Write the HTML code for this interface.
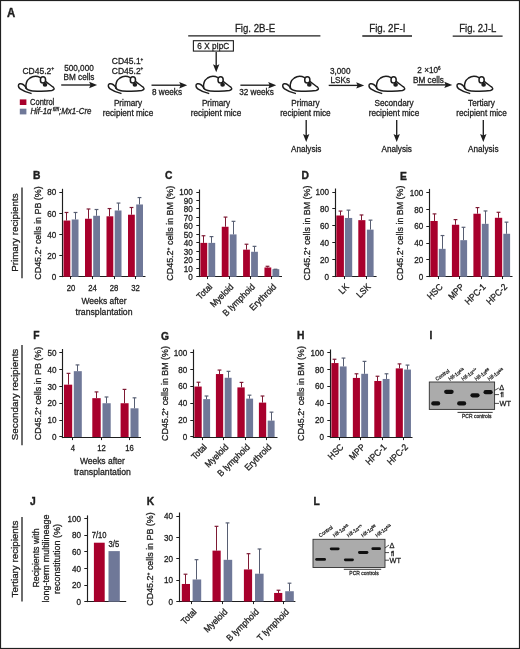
<!DOCTYPE html><html><head><meta charset="utf-8"><style>html,body{margin:0;padding:0;background:#fff;}svg{display:block;}text{font-family:"Liberation Sans", sans-serif;stroke:#1e1e1e;stroke-width:0.3px;}</style></head><body>
<svg width="520" height="649" viewBox="0 0 520 649" font-family='"Liberation Sans", sans-serif' fill="#1e1e1e" style="will-change:transform">
<rect x="0.00" y="0.00" width="520.00" height="649.00" fill="#fff"/>
<text x="7.00" y="17.00" font-size="12.54" font-weight="bold" transform="translate(7.00 17.00) scale(0.9091 1) translate(-7.00 -17.00)" style="stroke-width:0.4px">A</text>
<rect x="19.80" y="99.40" width="6.60" height="5.60" fill="#a8002c"/>
<rect x="19.80" y="108.70" width="6.60" height="5.70" fill="#6f7898"/>
<text x="30.00" y="104.80" font-size="8.86" textLength="26.24" lengthAdjust="spacingAndGlyphs" transform="translate(30.00 104.80) scale(0.9259 1) translate(-30.00 -104.80)">Control</text>
<text x="30.40" y="114.20" font-size="8.86" textLength="65.88" lengthAdjust="spacingAndGlyphs" font-style="italic" transform="translate(30.40 114.20) scale(0.9259 1) translate(-30.40 -114.20)">Hif-1&#945;<tspan font-size="5.4" dy="-3.2" font-style="italic"> fl/fl</tspan><tspan dy="3.2">;Mx1-Cre</tspan></text>
<text x="38.40" y="73.60" font-size="9.18" text-anchor="middle" transform="translate(38.40 73.60) scale(0.9259 1) translate(-38.40 -73.60)">CD45.2<tspan font-size="5.6" dy="-3.2">+</tspan></text>
<text x="79.00" y="70.80" font-size="8.86" text-anchor="middle" transform="translate(79.00 70.80) scale(0.9259 1) translate(-79.00 -70.80)">500,000</text>
<text x="79.00" y="80.20" font-size="8.86" text-anchor="middle" transform="translate(79.00 80.20) scale(0.9259 1) translate(-79.00 -80.20)">BM cells</text>
<text x="127.60" y="64.10" font-size="9.18" text-anchor="middle" transform="translate(127.60 64.10) scale(0.9259 1) translate(-127.60 -64.10)">CD45.1<tspan font-size="5" dy="-3.2">+</tspan></text>
<text x="127.60" y="73.70" font-size="9.18" text-anchor="middle" transform="translate(127.60 73.70) scale(0.9259 1) translate(-127.60 -73.70)">CD45.2<tspan font-size="5" dy="-3.2">+</tspan></text>
<line x1="61.20" y1="85.00" x2="92.10" y2="85.00" stroke="#1e1e1e" stroke-width="1.35"/>
<path d="M97.10,85.00 L89.10,81.80 L90.50,85.00 L89.10,88.20 Z" fill="#1e1e1e"/>
<line x1="151.50" y1="85.20" x2="182.20" y2="85.20" stroke="#1e1e1e" stroke-width="1.35"/>
<path d="M187.20,85.20 L179.20,82.00 L180.60,85.20 L179.20,88.40 Z" fill="#1e1e1e"/>
<text x="167.00" y="94.60" font-size="8.86" text-anchor="middle" transform="translate(167.00 94.60) scale(0.9259 1) translate(-167.00 -94.60)">8 weeks</text>
<line x1="240.40" y1="85.20" x2="271.20" y2="85.20" stroke="#1e1e1e" stroke-width="1.35"/>
<path d="M276.20,85.20 L268.20,82.00 L269.60,85.20 L268.20,88.40 Z" fill="#1e1e1e"/>
<text x="256.50" y="95.50" font-size="8.86" text-anchor="middle" transform="translate(256.50 95.50) scale(0.9259 1) translate(-256.50 -95.50)">32 weeks</text>
<line x1="328.70" y1="85.40" x2="359.20" y2="85.40" stroke="#1e1e1e" stroke-width="1.35"/>
<path d="M364.20,85.40 L356.20,82.20 L357.60,85.40 L356.20,88.60 Z" fill="#1e1e1e"/>
<text x="340.20" y="73.80" font-size="8.86" text-anchor="middle" transform="translate(340.20 73.80) scale(0.9259 1) translate(-340.20 -73.80)">3,000</text>
<text x="340.20" y="83.40" font-size="8.86" text-anchor="middle" transform="translate(340.20 83.40) scale(0.9259 1) translate(-340.20 -83.40)">LSKs</text>
<line x1="417.40" y1="84.90" x2="447.30" y2="84.90" stroke="#1e1e1e" stroke-width="1.35"/>
<path d="M452.30,84.90 L444.30,81.70 L445.70,84.90 L444.30,88.10 Z" fill="#1e1e1e"/>
<text x="429.00" y="73.10" font-size="8.86" text-anchor="middle" transform="translate(429.00 73.10) scale(0.9259 1) translate(-429.00 -73.10)">2 ×10<tspan font-size="5" dy="-3">6</tspan></text>
<text x="428.50" y="83.00" font-size="8.86" text-anchor="middle" transform="translate(428.50 83.00) scale(0.9259 1) translate(-428.50 -83.00)">BM cells</text>
<text x="255.00" y="31.70" font-size="11.23" text-anchor="middle" textLength="43.42" lengthAdjust="spacingAndGlyphs" transform="translate(255.00 31.70) scale(0.9259 1) translate(-255.00 -31.70)">Fig. 2B-E</text>
<line x1="188.20" y1="35.95" x2="320.40" y2="35.95" stroke="#1e1e1e" stroke-width="1.3"/>
<text x="387.30" y="31.70" font-size="11.23" text-anchor="middle" textLength="39.10" lengthAdjust="spacingAndGlyphs" transform="translate(387.30 31.70) scale(0.9259 1) translate(-387.30 -31.70)">Fig. 2F-I</text>
<line x1="362.30" y1="36.00" x2="412.00" y2="36.00" stroke="#1e1e1e" stroke-width="1.3"/>
<text x="477.80" y="31.70" font-size="11.23" text-anchor="middle" textLength="40.18" lengthAdjust="spacingAndGlyphs" transform="translate(477.80 31.70) scale(0.9259 1) translate(-477.80 -31.70)">Fig. 2J-L</text>
<line x1="452.70" y1="36.10" x2="502.60" y2="36.10" stroke="#1e1e1e" stroke-width="1.3"/>
<rect x="193.4" y="40.7" width="40.0" height="10.4" fill="none" stroke="#1e1e1e" stroke-width="1.1"/>
<text x="213.30" y="49.00" font-size="8.86" text-anchor="middle" transform="translate(213.30 49.00) scale(0.9259 1) translate(-213.30 -49.00)">6 X pIpC</text>
<line x1="216.20" y1="51.90" x2="216.20" y2="67.30" stroke="#1e1e1e" stroke-width="1.35"/>
<path d="M216.20,72.30 L213.00,64.30 L216.20,65.70 L219.40,64.30 Z" fill="#1e1e1e"/>
<g transform="translate(14.00,72.00) scale(1.0)" fill="none" stroke="#1e1e1e" stroke-width="1.5" stroke-linecap="round" stroke-linejoin="round"><path d="M12.1,16.2 C11.4,12.2 12.8,8.2 16,6 C18.8,4.2 23,4.0 26.4,5.6"/><path d="M31.8,9.6 C34.4,11.6 37.4,13.7 39.3,15.2 C40.8,16.5 40.2,18.0 37.8,18.5 C33.5,19.2 24,19.3 18.5,18.9 C15.2,18.6 12.9,17.6 12.1,16.2"/><path d="M12.1,15.8 C10.6,13.4 7.9,11.4 5.8,11.8 C3.8,12.3 3.9,15.2 6.2,16.8 C8.5,18.4 12.6,20.2 17.0,21.4"/><ellipse cx="29.0" cy="7.9" rx="2.6" ry="3.1" fill="#fff"/><ellipse cx="31.0" cy="12.8" rx="2.3" ry="1.95" fill="#1e1e1e" stroke="none"/></g>
<g transform="translate(103.90,72.00) scale(1.0)" fill="none" stroke="#1e1e1e" stroke-width="1.5" stroke-linecap="round" stroke-linejoin="round"><path d="M12.1,16.2 C11.4,12.2 12.8,8.2 16,6 C18.8,4.2 23,4.0 26.4,5.6"/><path d="M31.8,9.6 C34.4,11.6 37.4,13.7 39.3,15.2 C40.8,16.5 40.2,18.0 37.8,18.5 C33.5,19.2 24,19.3 18.5,18.9 C15.2,18.6 12.9,17.6 12.1,16.2"/><path d="M12.1,15.8 C10.6,13.4 7.9,11.4 5.8,11.8 C3.8,12.3 3.9,15.2 6.2,16.8 C8.5,18.4 12.6,20.2 17.0,21.4"/><ellipse cx="29.0" cy="7.9" rx="2.6" ry="3.1" fill="#fff"/><ellipse cx="31.0" cy="12.8" rx="2.3" ry="1.95" fill="#1e1e1e" stroke="none"/></g>
<g transform="translate(191.60,72.00) scale(1.0)" fill="none" stroke="#1e1e1e" stroke-width="1.5" stroke-linecap="round" stroke-linejoin="round"><path d="M12.1,16.2 C11.4,12.2 12.8,8.2 16,6 C18.8,4.2 23,4.0 26.4,5.6"/><path d="M31.8,9.6 C34.4,11.6 37.4,13.7 39.3,15.2 C40.8,16.5 40.2,18.0 37.8,18.5 C33.5,19.2 24,19.3 18.5,18.9 C15.2,18.6 12.9,17.6 12.1,16.2"/><path d="M12.1,15.8 C10.6,13.4 7.9,11.4 5.8,11.8 C3.8,12.3 3.9,15.2 6.2,16.8 C8.5,18.4 12.6,20.2 17.0,21.4"/><ellipse cx="29.0" cy="7.9" rx="2.6" ry="3.1" fill="#fff"/><ellipse cx="31.0" cy="12.8" rx="2.3" ry="1.95" fill="#1e1e1e" stroke="none"/></g>
<g transform="translate(278.30,72.00) scale(1.0)" fill="none" stroke="#1e1e1e" stroke-width="1.5" stroke-linecap="round" stroke-linejoin="round"><path d="M12.1,16.2 C11.4,12.2 12.8,8.2 16,6 C18.8,4.2 23,4.0 26.4,5.6"/><path d="M31.8,9.6 C34.4,11.6 37.4,13.7 39.3,15.2 C40.8,16.5 40.2,18.0 37.8,18.5 C33.5,19.2 24,19.3 18.5,18.9 C15.2,18.6 12.9,17.6 12.1,16.2"/><path d="M12.1,15.8 C10.6,13.4 7.9,11.4 5.8,11.8 C3.8,12.3 3.9,15.2 6.2,16.8 C8.5,18.4 12.6,20.2 17.0,21.4"/><ellipse cx="29.0" cy="7.9" rx="2.6" ry="3.1" fill="#fff"/><ellipse cx="31.0" cy="12.8" rx="2.3" ry="1.95" fill="#1e1e1e" stroke="none"/></g>
<g transform="translate(364.60,72.00) scale(1.0)" fill="none" stroke="#1e1e1e" stroke-width="1.5" stroke-linecap="round" stroke-linejoin="round"><path d="M12.1,16.2 C11.4,12.2 12.8,8.2 16,6 C18.8,4.2 23,4.0 26.4,5.6"/><path d="M31.8,9.6 C34.4,11.6 37.4,13.7 39.3,15.2 C40.8,16.5 40.2,18.0 37.8,18.5 C33.5,19.2 24,19.3 18.5,18.9 C15.2,18.6 12.9,17.6 12.1,16.2"/><path d="M12.1,15.8 C10.6,13.4 7.9,11.4 5.8,11.8 C3.8,12.3 3.9,15.2 6.2,16.8 C8.5,18.4 12.6,20.2 17.0,21.4"/><ellipse cx="29.0" cy="7.9" rx="2.6" ry="3.1" fill="#fff"/><ellipse cx="31.0" cy="12.8" rx="2.3" ry="1.95" fill="#1e1e1e" stroke="none"/></g>
<g transform="translate(452.60,72.00) scale(1.0)" fill="none" stroke="#1e1e1e" stroke-width="1.5" stroke-linecap="round" stroke-linejoin="round"><path d="M12.1,16.2 C11.4,12.2 12.8,8.2 16,6 C18.8,4.2 23,4.0 26.4,5.6"/><path d="M31.8,9.6 C34.4,11.6 37.4,13.7 39.3,15.2 C40.8,16.5 40.2,18.0 37.8,18.5 C33.5,19.2 24,19.3 18.5,18.9 C15.2,18.6 12.9,17.6 12.1,16.2"/><path d="M12.1,15.8 C10.6,13.4 7.9,11.4 5.8,11.8 C3.8,12.3 3.9,15.2 6.2,16.8 C8.5,18.4 12.6,20.2 17.0,21.4"/><ellipse cx="29.0" cy="7.9" rx="2.6" ry="3.1" fill="#fff"/><ellipse cx="31.0" cy="12.8" rx="2.3" ry="1.95" fill="#1e1e1e" stroke="none"/></g>
<text x="128.00" y="106.30" font-size="8.86" text-anchor="middle" transform="translate(128.00 106.30) scale(0.9259 1) translate(-128.00 -106.30)">Primary</text>
<text x="128.00" y="115.80" font-size="8.86" text-anchor="middle" transform="translate(128.00 115.80) scale(0.9259 1) translate(-128.00 -115.80)">recipient mice</text>
<text x="216.00" y="106.30" font-size="8.86" text-anchor="middle" transform="translate(216.00 106.30) scale(0.9259 1) translate(-216.00 -106.30)">Primary</text>
<text x="216.00" y="116.20" font-size="8.86" text-anchor="middle" transform="translate(216.00 116.20) scale(0.9259 1) translate(-216.00 -116.20)">recipient mice</text>
<text x="305.40" y="106.30" font-size="8.86" text-anchor="middle" transform="translate(305.40 106.30) scale(0.9259 1) translate(-305.40 -106.30)">Primary</text>
<text x="305.40" y="116.20" font-size="8.86" text-anchor="middle" transform="translate(305.40 116.20) scale(0.9259 1) translate(-305.40 -116.20)">recipient mice</text>
<text x="394.00" y="106.30" font-size="8.86" text-anchor="middle" transform="translate(394.00 106.30) scale(0.9259 1) translate(-394.00 -106.30)">Secondary</text>
<text x="394.00" y="116.20" font-size="8.86" text-anchor="middle" transform="translate(394.00 116.20) scale(0.9259 1) translate(-394.00 -116.20)">recipient mice</text>
<text x="481.50" y="106.30" font-size="8.86" text-anchor="middle" transform="translate(481.50 106.30) scale(0.9259 1) translate(-481.50 -106.30)">Tertiary</text>
<text x="481.50" y="116.20" font-size="8.86" text-anchor="middle" transform="translate(481.50 116.20) scale(0.9259 1) translate(-481.50 -116.20)">recipient mice</text>
<line x1="306.20" y1="120.10" x2="306.20" y2="137.10" stroke="#1e1e1e" stroke-width="1.35"/>
<path d="M306.20,142.10 L303.00,134.10 L306.20,135.50 L309.40,134.10 Z" fill="#1e1e1e"/>
<text x="306.20" y="152.40" font-size="8.86" text-anchor="middle" transform="translate(306.20 152.40) scale(0.9259 1) translate(-306.20 -152.40)">Analysis</text>
<line x1="396.70" y1="120.10" x2="396.70" y2="137.10" stroke="#1e1e1e" stroke-width="1.35"/>
<path d="M396.70,142.10 L393.50,134.10 L396.70,135.50 L399.90,134.10 Z" fill="#1e1e1e"/>
<text x="396.70" y="152.40" font-size="8.86" text-anchor="middle" transform="translate(396.70 152.40) scale(0.9259 1) translate(-396.70 -152.40)">Analysis</text>
<line x1="483.30" y1="120.10" x2="483.30" y2="137.10" stroke="#1e1e1e" stroke-width="1.35"/>
<path d="M483.30,142.10 L480.10,134.10 L483.30,135.50 L486.50,134.10 Z" fill="#1e1e1e"/>
<text x="483.30" y="152.40" font-size="8.86" text-anchor="middle" transform="translate(483.30 152.40) scale(0.9259 1) translate(-483.30 -152.40)">Analysis</text>
<text x="18.10" y="232.60" font-size="9.80" text-anchor="middle" transform="rotate(-90 18.10 232.60)">Primary recipients</text>
<line x1="22.00" y1="187.60" x2="22.00" y2="278.30" stroke="#1e1e1e" stroke-width="1.3"/>
<text x="18.10" y="394.50" font-size="9.80" text-anchor="middle" transform="rotate(-90 18.10 394.50)">Secondary recipients</text>
<line x1="22.00" y1="345.00" x2="22.00" y2="445.30" stroke="#1e1e1e" stroke-width="1.3"/>
<text x="18.10" y="559.00" font-size="9.80" text-anchor="middle" transform="rotate(-90 18.10 559.00)">Tertiary recipients</text>
<line x1="22.00" y1="517.00" x2="22.00" y2="601.50" stroke="#1e1e1e" stroke-width="1.3"/>
<text x="33.00" y="179.00" font-size="11.33" font-weight="bold" transform="translate(33.00 179.00) scale(0.9091 1) translate(-33.00 -179.00)" style="stroke-width:0.4px">B</text>
<text x="41.00" y="233.00" font-size="9.61" text-anchor="middle" transform="rotate(-90 41.00 233.00) translate(41.00 233.00) scale(0.9259 1) translate(-41.00 -233.00)">CD45.2<tspan font-size="5.5" dy="-3">+</tspan><tspan dy="3"> cells in PB (%)</tspan></text>
<line x1="62.50" y1="188.80" x2="62.50" y2="277.10" stroke="#1e1e1e" stroke-width="1.15"/>
<line x1="59.30" y1="276.50" x2="62.50" y2="276.50" stroke="#1e1e1e" stroke-width="1.0"/>
<text x="56.20" y="280.00" font-size="8.75" text-anchor="end" transform="translate(56.20 280.00) scale(0.9259 1) translate(-56.20 -280.00)">0</text>
<line x1="59.30" y1="255.50" x2="62.50" y2="255.50" stroke="#1e1e1e" stroke-width="1.0"/>
<text x="56.20" y="258.85" font-size="8.75" text-anchor="end" transform="translate(56.20 258.85) scale(0.9259 1) translate(-56.20 -258.85)">20</text>
<line x1="59.30" y1="234.50" x2="62.50" y2="234.50" stroke="#1e1e1e" stroke-width="1.0"/>
<text x="56.20" y="237.70" font-size="8.75" text-anchor="end" transform="translate(56.20 237.70) scale(0.9259 1) translate(-56.20 -237.70)">40</text>
<line x1="59.30" y1="213.50" x2="62.50" y2="213.50" stroke="#1e1e1e" stroke-width="1.0"/>
<text x="56.20" y="216.55" font-size="8.75" text-anchor="end" transform="translate(56.20 216.55) scale(0.9259 1) translate(-56.20 -216.55)">60</text>
<line x1="59.30" y1="192.50" x2="62.50" y2="192.50" stroke="#1e1e1e" stroke-width="1.0"/>
<text x="56.20" y="195.40" font-size="8.75" text-anchor="end" transform="translate(56.20 195.40) scale(0.9259 1) translate(-56.20 -195.40)">80</text>
<line x1="61.90" y1="276.50" x2="145.50" y2="276.50" stroke="#1e1e1e" stroke-width="1.15"/>
<rect x="63.50" y="220.54" width="6.80" height="56.26" fill="#a8002c"/>
<line x1="66.50" y1="212.48" x2="66.50" y2="220.54" stroke="#7e1a34" stroke-width="1.0"/>
<line x1="64.60" y1="212.48" x2="68.40" y2="212.48" stroke="#7e1a34" stroke-width="1.2"/>
<rect x="71.70" y="219.48" width="6.80" height="57.32" fill="#6f7898"/>
<line x1="75.50" y1="212.48" x2="75.50" y2="219.48" stroke="#575e72" stroke-width="1.0"/>
<line x1="73.60" y1="212.48" x2="77.40" y2="212.48" stroke="#575e72" stroke-width="1.2"/>
<line x1="70.50" y1="276.50" x2="70.50" y2="279.10" stroke="#1e1e1e" stroke-width="1.0"/>
<rect x="85.00" y="218.74" width="6.80" height="58.06" fill="#a8002c"/>
<line x1="88.50" y1="208.99" x2="88.50" y2="218.74" stroke="#7e1a34" stroke-width="1.0"/>
<line x1="86.60" y1="208.99" x2="90.40" y2="208.99" stroke="#7e1a34" stroke-width="1.2"/>
<rect x="93.20" y="215.78" width="6.80" height="61.02" fill="#6f7898"/>
<line x1="96.50" y1="209.51" x2="96.50" y2="215.78" stroke="#575e72" stroke-width="1.0"/>
<line x1="94.60" y1="209.51" x2="98.40" y2="209.51" stroke="#575e72" stroke-width="1.2"/>
<line x1="92.50" y1="276.50" x2="92.50" y2="279.10" stroke="#1e1e1e" stroke-width="1.0"/>
<rect x="106.50" y="216.31" width="6.80" height="60.49" fill="#a8002c"/>
<line x1="109.50" y1="208.56" x2="109.50" y2="216.31" stroke="#7e1a34" stroke-width="1.0"/>
<line x1="107.60" y1="208.56" x2="111.40" y2="208.56" stroke="#7e1a34" stroke-width="1.2"/>
<rect x="114.70" y="210.49" width="6.80" height="66.31" fill="#6f7898"/>
<line x1="118.50" y1="203.06" x2="118.50" y2="210.49" stroke="#575e72" stroke-width="1.0"/>
<line x1="116.60" y1="203.06" x2="120.40" y2="203.06" stroke="#575e72" stroke-width="1.2"/>
<line x1="114.50" y1="276.50" x2="114.50" y2="279.10" stroke="#1e1e1e" stroke-width="1.0"/>
<rect x="128.00" y="214.72" width="6.80" height="62.08" fill="#a8002c"/>
<line x1="131.50" y1="207.50" x2="131.50" y2="214.72" stroke="#7e1a34" stroke-width="1.0"/>
<line x1="129.60" y1="207.50" x2="133.40" y2="207.50" stroke="#7e1a34" stroke-width="1.2"/>
<rect x="136.20" y="204.47" width="6.80" height="72.33" fill="#6f7898"/>
<line x1="139.50" y1="197.56" x2="139.50" y2="204.47" stroke="#575e72" stroke-width="1.0"/>
<line x1="137.60" y1="197.56" x2="141.40" y2="197.56" stroke="#575e72" stroke-width="1.2"/>
<line x1="135.50" y1="276.50" x2="135.50" y2="279.10" stroke="#1e1e1e" stroke-width="1.0"/>
<text x="71.00" y="290.70" font-size="8.32" text-anchor="middle" transform="translate(71.00 290.70) scale(0.9259 1) translate(-71.00 -290.70)">20</text>
<text x="92.50" y="290.70" font-size="8.32" text-anchor="middle" transform="translate(92.50 290.70) scale(0.9259 1) translate(-92.50 -290.70)">24</text>
<text x="114.00" y="290.70" font-size="8.32" text-anchor="middle" transform="translate(114.00 290.70) scale(0.9259 1) translate(-114.00 -290.70)">28</text>
<text x="135.50" y="290.70" font-size="8.32" text-anchor="middle" transform="translate(135.50 290.70) scale(0.9259 1) translate(-135.50 -290.70)">32</text>
<text x="104.00" y="304.20" font-size="9.50" text-anchor="middle" textLength="48.60" lengthAdjust="spacingAndGlyphs" transform="translate(104.00 304.20) scale(0.9259 1) translate(-104.00 -304.20)">Weeks after</text>
<text x="104.00" y="315.20" font-size="9.50" text-anchor="middle" textLength="61.56" lengthAdjust="spacingAndGlyphs" transform="translate(104.00 315.20) scale(0.9259 1) translate(-104.00 -315.20)">transplantation</text>
<text x="165.00" y="179.30" font-size="11.33" font-weight="bold" transform="translate(165.00 179.30) scale(0.9091 1) translate(-165.00 -179.30)" style="stroke-width:0.4px">C</text>
<text x="173.50" y="233.20" font-size="9.61" text-anchor="middle" transform="rotate(-90 173.50 233.20) translate(173.50 233.20) scale(0.9259 1) translate(-173.50 -233.20)">CD45.2<tspan font-size="5.5" dy="-3">+</tspan><tspan dy="3"> cells in BM (%)</tspan></text>
<line x1="199.50" y1="189.50" x2="199.50" y2="277.10" stroke="#1e1e1e" stroke-width="1.15"/>
<line x1="196.30" y1="276.50" x2="199.50" y2="276.50" stroke="#1e1e1e" stroke-width="1.0"/>
<text x="192.70" y="280.00" font-size="8.75" text-anchor="end" transform="translate(192.70 280.00) scale(0.9259 1) translate(-192.70 -280.00)">0</text>
<line x1="196.30" y1="268.50" x2="199.50" y2="268.50" stroke="#1e1e1e" stroke-width="1.0"/>
<text x="192.70" y="271.52" font-size="8.75" text-anchor="end" transform="translate(192.70 271.52) scale(0.9259 1) translate(-192.70 -271.52)">10</text>
<line x1="196.30" y1="259.50" x2="199.50" y2="259.50" stroke="#1e1e1e" stroke-width="1.0"/>
<text x="192.70" y="263.04" font-size="8.75" text-anchor="end" transform="translate(192.70 263.04) scale(0.9259 1) translate(-192.70 -263.04)">20</text>
<line x1="196.30" y1="251.50" x2="199.50" y2="251.50" stroke="#1e1e1e" stroke-width="1.0"/>
<text x="192.70" y="254.56" font-size="8.75" text-anchor="end" transform="translate(192.70 254.56) scale(0.9259 1) translate(-192.70 -254.56)">30</text>
<line x1="196.30" y1="242.50" x2="199.50" y2="242.50" stroke="#1e1e1e" stroke-width="1.0"/>
<text x="192.70" y="246.08" font-size="8.75" text-anchor="end" transform="translate(192.70 246.08) scale(0.9259 1) translate(-192.70 -246.08)">40</text>
<line x1="196.30" y1="234.50" x2="199.50" y2="234.50" stroke="#1e1e1e" stroke-width="1.0"/>
<text x="192.70" y="237.60" font-size="8.75" text-anchor="end" transform="translate(192.70 237.60) scale(0.9259 1) translate(-192.70 -237.60)">50</text>
<line x1="196.30" y1="225.50" x2="199.50" y2="225.50" stroke="#1e1e1e" stroke-width="1.0"/>
<text x="192.70" y="229.12" font-size="8.75" text-anchor="end" transform="translate(192.70 229.12) scale(0.9259 1) translate(-192.70 -229.12)">60</text>
<line x1="196.30" y1="217.50" x2="199.50" y2="217.50" stroke="#1e1e1e" stroke-width="1.0"/>
<text x="192.70" y="220.64" font-size="8.75" text-anchor="end" transform="translate(192.70 220.64) scale(0.9259 1) translate(-192.70 -220.64)">70</text>
<line x1="196.30" y1="208.50" x2="199.50" y2="208.50" stroke="#1e1e1e" stroke-width="1.0"/>
<text x="192.70" y="212.16" font-size="8.75" text-anchor="end" transform="translate(192.70 212.16) scale(0.9259 1) translate(-192.70 -212.16)">80</text>
<line x1="196.30" y1="200.50" x2="199.50" y2="200.50" stroke="#1e1e1e" stroke-width="1.0"/>
<text x="192.70" y="203.68" font-size="8.75" text-anchor="end" transform="translate(192.70 203.68) scale(0.9259 1) translate(-192.70 -203.68)">90</text>
<line x1="196.30" y1="192.50" x2="199.50" y2="192.50" stroke="#1e1e1e" stroke-width="1.0"/>
<text x="192.70" y="195.20" font-size="8.75" text-anchor="end" transform="translate(192.70 195.20) scale(0.9259 1) translate(-192.70 -195.20)">100</text>
<line x1="198.90" y1="276.50" x2="282.00" y2="276.50" stroke="#1e1e1e" stroke-width="1.15"/>
<rect x="200.40" y="242.88" width="6.80" height="33.92" fill="#a8002c"/>
<line x1="203.50" y1="235.75" x2="203.50" y2="242.88" stroke="#7e1a34" stroke-width="1.0"/>
<line x1="201.60" y1="235.75" x2="205.40" y2="235.75" stroke="#7e1a34" stroke-width="1.2"/>
<rect x="208.40" y="242.88" width="6.80" height="33.92" fill="#6f7898"/>
<line x1="211.50" y1="236.60" x2="211.50" y2="242.88" stroke="#575e72" stroke-width="1.0"/>
<line x1="209.60" y1="236.60" x2="213.40" y2="236.60" stroke="#575e72" stroke-width="1.2"/>
<line x1="207.50" y1="276.50" x2="207.50" y2="279.10" stroke="#1e1e1e" stroke-width="1.0"/>
<rect x="221.75" y="226.77" width="6.80" height="50.03" fill="#a8002c"/>
<line x1="225.50" y1="217.09" x2="225.50" y2="226.77" stroke="#7e1a34" stroke-width="1.0"/>
<line x1="223.60" y1="217.09" x2="227.40" y2="217.09" stroke="#7e1a34" stroke-width="1.2"/>
<rect x="229.75" y="234.40" width="6.80" height="42.40" fill="#6f7898"/>
<line x1="233.50" y1="221.33" x2="233.50" y2="234.40" stroke="#575e72" stroke-width="1.0"/>
<line x1="231.60" y1="221.33" x2="235.40" y2="221.33" stroke="#575e72" stroke-width="1.2"/>
<line x1="229.50" y1="276.50" x2="229.50" y2="279.10" stroke="#1e1e1e" stroke-width="1.0"/>
<rect x="243.10" y="249.66" width="6.80" height="27.14" fill="#a8002c"/>
<line x1="246.50" y1="244.23" x2="246.50" y2="249.66" stroke="#7e1a34" stroke-width="1.0"/>
<line x1="244.60" y1="244.23" x2="248.40" y2="244.23" stroke="#7e1a34" stroke-width="1.2"/>
<rect x="251.10" y="251.78" width="6.80" height="25.02" fill="#6f7898"/>
<line x1="254.50" y1="246.35" x2="254.50" y2="251.78" stroke="#575e72" stroke-width="1.0"/>
<line x1="252.60" y1="246.35" x2="256.40" y2="246.35" stroke="#575e72" stroke-width="1.2"/>
<line x1="250.50" y1="276.50" x2="250.50" y2="279.10" stroke="#1e1e1e" stroke-width="1.0"/>
<rect x="264.45" y="267.47" width="6.80" height="9.33" fill="#a8002c"/>
<line x1="267.50" y1="266.28" x2="267.50" y2="267.47" stroke="#7e1a34" stroke-width="1.0"/>
<line x1="265.60" y1="266.28" x2="269.40" y2="266.28" stroke="#7e1a34" stroke-width="1.2"/>
<rect x="272.45" y="269.17" width="6.80" height="7.63" fill="#6f7898"/>
<line x1="275.50" y1="269.24" x2="275.50" y2="269.17" stroke="#575e72" stroke-width="1.0"/>
<line x1="273.60" y1="269.24" x2="277.40" y2="269.24" stroke="#575e72" stroke-width="1.2"/>
<line x1="271.50" y1="276.50" x2="271.50" y2="279.10" stroke="#1e1e1e" stroke-width="1.0"/>
<text x="212.80" y="287.40" font-size="9.07" text-anchor="end" transform="rotate(-45 212.80 287.40) translate(212.80 287.40) scale(0.9259 1) translate(-212.80 -287.40)">Total</text>
<text x="234.15" y="287.40" font-size="9.07" text-anchor="end" transform="rotate(-45 234.15 287.40) translate(234.15 287.40) scale(0.9259 1) translate(-234.15 -287.40)">Myeloid</text>
<text x="255.50" y="287.40" font-size="9.07" text-anchor="end" transform="rotate(-45 255.50 287.40) translate(255.50 287.40) scale(0.9259 1) translate(-255.50 -287.40)">B lymphoid</text>
<text x="276.85" y="287.40" font-size="9.07" text-anchor="end" transform="rotate(-45 276.85 287.40) translate(276.85 287.40) scale(0.9259 1) translate(-276.85 -287.40)">Erythroid</text>
<text x="301.50" y="179.30" font-size="11.33" font-weight="bold" transform="translate(301.50 179.30) scale(0.9091 1) translate(-301.50 -179.30)" style="stroke-width:0.4px">D</text>
<text x="310.00" y="233.00" font-size="9.61" text-anchor="middle" transform="rotate(-90 310.00 233.00) translate(310.00 233.00) scale(0.9259 1) translate(-310.00 -233.00)">CD45.2<tspan font-size="5.5" dy="-3">+</tspan><tspan dy="3"> cells in BM (%)</tspan></text>
<line x1="335.50" y1="188.50" x2="335.50" y2="277.10" stroke="#1e1e1e" stroke-width="1.15"/>
<line x1="332.30" y1="276.50" x2="335.50" y2="276.50" stroke="#1e1e1e" stroke-width="1.0"/>
<text x="329.10" y="280.00" font-size="8.75" text-anchor="end" transform="translate(329.10 280.00) scale(0.9259 1) translate(-329.10 -280.00)">0</text>
<line x1="332.30" y1="259.50" x2="335.50" y2="259.50" stroke="#1e1e1e" stroke-width="1.0"/>
<text x="329.10" y="263.04" font-size="8.75" text-anchor="end" transform="translate(329.10 263.04) scale(0.9259 1) translate(-329.10 -263.04)">20</text>
<line x1="332.30" y1="242.50" x2="335.50" y2="242.50" stroke="#1e1e1e" stroke-width="1.0"/>
<text x="329.10" y="246.08" font-size="8.75" text-anchor="end" transform="translate(329.10 246.08) scale(0.9259 1) translate(-329.10 -246.08)">40</text>
<line x1="332.30" y1="225.50" x2="335.50" y2="225.50" stroke="#1e1e1e" stroke-width="1.0"/>
<text x="329.10" y="229.12" font-size="8.75" text-anchor="end" transform="translate(329.10 229.12) scale(0.9259 1) translate(-329.10 -229.12)">60</text>
<line x1="332.30" y1="208.50" x2="335.50" y2="208.50" stroke="#1e1e1e" stroke-width="1.0"/>
<text x="329.10" y="212.16" font-size="8.75" text-anchor="end" transform="translate(329.10 212.16) scale(0.9259 1) translate(-329.10 -212.16)">80</text>
<line x1="332.30" y1="192.50" x2="335.50" y2="192.50" stroke="#1e1e1e" stroke-width="1.0"/>
<text x="329.10" y="195.20" font-size="8.75" text-anchor="end" transform="translate(329.10 195.20) scale(0.9259 1) translate(-329.10 -195.20)">100</text>
<line x1="334.90" y1="276.50" x2="376.60" y2="276.50" stroke="#1e1e1e" stroke-width="1.15"/>
<rect x="336.30" y="215.49" width="7.60" height="61.31" fill="#a8002c"/>
<line x1="340.50" y1="211.07" x2="340.50" y2="215.49" stroke="#7e1a34" stroke-width="1.0"/>
<line x1="338.60" y1="211.07" x2="342.40" y2="211.07" stroke="#7e1a34" stroke-width="1.2"/>
<rect x="344.90" y="217.95" width="7.30" height="58.85" fill="#6f7898"/>
<line x1="348.50" y1="210.14" x2="348.50" y2="217.95" stroke="#575e72" stroke-width="1.0"/>
<line x1="346.60" y1="210.14" x2="350.40" y2="210.14" stroke="#575e72" stroke-width="1.2"/>
<line x1="344.50" y1="276.50" x2="344.50" y2="279.10" stroke="#1e1e1e" stroke-width="1.0"/>
<rect x="358.30" y="220.15" width="7.10" height="56.65" fill="#a8002c"/>
<line x1="361.50" y1="214.97" x2="361.50" y2="220.15" stroke="#7e1a34" stroke-width="1.0"/>
<line x1="359.60" y1="214.97" x2="363.40" y2="214.97" stroke="#7e1a34" stroke-width="1.2"/>
<rect x="366.90" y="229.65" width="6.70" height="47.15" fill="#6f7898"/>
<line x1="370.50" y1="220.14" x2="370.50" y2="229.65" stroke="#575e72" stroke-width="1.0"/>
<line x1="368.60" y1="220.14" x2="372.40" y2="220.14" stroke="#575e72" stroke-width="1.2"/>
<line x1="366.50" y1="276.50" x2="366.50" y2="279.10" stroke="#1e1e1e" stroke-width="1.0"/>
<text x="349.40" y="287.40" font-size="9.07" text-anchor="end" transform="rotate(-45 349.40 287.40) translate(349.40 287.40) scale(0.9259 1) translate(-349.40 -287.40)">LK</text>
<text x="371.15" y="287.40" font-size="9.07" text-anchor="end" transform="rotate(-45 371.15 287.40) translate(371.15 287.40) scale(0.9259 1) translate(-371.15 -287.40)">LSK</text>
<text x="400.00" y="180.00" font-size="11.33" font-weight="bold" transform="translate(400.00 180.00) scale(0.9091 1) translate(-400.00 -180.00)" style="stroke-width:0.4px">E</text>
<text x="403.50" y="233.00" font-size="9.61" text-anchor="middle" transform="rotate(-90 403.50 233.00) translate(403.50 233.00) scale(0.9259 1) translate(-403.50 -233.00)">CD45.2<tspan font-size="5.5" dy="-3">+</tspan><tspan dy="3"> cells in BM (%)</tspan></text>
<line x1="429.50" y1="188.90" x2="429.50" y2="277.10" stroke="#1e1e1e" stroke-width="1.15"/>
<line x1="426.30" y1="276.50" x2="429.50" y2="276.50" stroke="#1e1e1e" stroke-width="1.0"/>
<text x="423.30" y="280.00" font-size="8.75" text-anchor="end" transform="translate(423.30 280.00) scale(0.9259 1) translate(-423.30 -280.00)">0</text>
<line x1="426.30" y1="259.50" x2="429.50" y2="259.50" stroke="#1e1e1e" stroke-width="1.0"/>
<text x="423.30" y="263.16" font-size="8.75" text-anchor="end" transform="translate(423.30 263.16) scale(0.9259 1) translate(-423.30 -263.16)">20</text>
<line x1="426.30" y1="243.50" x2="429.50" y2="243.50" stroke="#1e1e1e" stroke-width="1.0"/>
<text x="423.30" y="246.32" font-size="8.75" text-anchor="end" transform="translate(423.30 246.32) scale(0.9259 1) translate(-423.30 -246.32)">40</text>
<line x1="426.30" y1="226.50" x2="429.50" y2="226.50" stroke="#1e1e1e" stroke-width="1.0"/>
<text x="423.30" y="229.48" font-size="8.75" text-anchor="end" transform="translate(423.30 229.48) scale(0.9259 1) translate(-423.30 -229.48)">60</text>
<line x1="426.30" y1="209.50" x2="429.50" y2="209.50" stroke="#1e1e1e" stroke-width="1.0"/>
<text x="423.30" y="212.64" font-size="8.75" text-anchor="end" transform="translate(423.30 212.64) scale(0.9259 1) translate(-423.30 -212.64)">80</text>
<line x1="426.30" y1="192.50" x2="429.50" y2="192.50" stroke="#1e1e1e" stroke-width="1.0"/>
<text x="423.30" y="195.80" font-size="8.75" text-anchor="end" transform="translate(423.30 195.80) scale(0.9259 1) translate(-423.30 -195.80)">100</text>
<line x1="428.90" y1="276.50" x2="512.50" y2="276.50" stroke="#1e1e1e" stroke-width="1.15"/>
<rect x="430.40" y="220.98" width="7.30" height="55.82" fill="#a8002c"/>
<line x1="434.50" y1="213.90" x2="434.50" y2="220.98" stroke="#7e1a34" stroke-width="1.0"/>
<line x1="432.60" y1="213.90" x2="436.40" y2="213.90" stroke="#7e1a34" stroke-width="1.2"/>
<rect x="438.80" y="248.85" width="6.80" height="27.95" fill="#6f7898"/>
<line x1="442.50" y1="235.54" x2="442.50" y2="248.85" stroke="#575e72" stroke-width="1.0"/>
<line x1="440.60" y1="235.54" x2="444.40" y2="235.54" stroke="#575e72" stroke-width="1.2"/>
<line x1="438.50" y1="276.50" x2="438.50" y2="279.10" stroke="#1e1e1e" stroke-width="1.0"/>
<rect x="451.90" y="224.76" width="7.30" height="52.04" fill="#a8002c"/>
<line x1="455.50" y1="219.62" x2="455.50" y2="224.76" stroke="#7e1a34" stroke-width="1.0"/>
<line x1="453.60" y1="219.62" x2="457.40" y2="219.62" stroke="#7e1a34" stroke-width="1.2"/>
<rect x="460.30" y="240.17" width="6.80" height="36.63" fill="#6f7898"/>
<line x1="463.50" y1="227.29" x2="463.50" y2="240.17" stroke="#575e72" stroke-width="1.0"/>
<line x1="461.60" y1="227.29" x2="465.40" y2="227.29" stroke="#575e72" stroke-width="1.2"/>
<line x1="459.50" y1="276.50" x2="459.50" y2="279.10" stroke="#1e1e1e" stroke-width="1.0"/>
<rect x="473.40" y="213.73" width="7.30" height="63.07" fill="#a8002c"/>
<line x1="477.50" y1="207.58" x2="477.50" y2="213.73" stroke="#7e1a34" stroke-width="1.0"/>
<line x1="475.60" y1="207.58" x2="479.40" y2="207.58" stroke="#7e1a34" stroke-width="1.2"/>
<rect x="481.80" y="223.84" width="6.80" height="52.96" fill="#6f7898"/>
<line x1="485.50" y1="210.95" x2="485.50" y2="223.84" stroke="#575e72" stroke-width="1.0"/>
<line x1="483.60" y1="210.95" x2="487.40" y2="210.95" stroke="#575e72" stroke-width="1.2"/>
<line x1="481.50" y1="276.50" x2="481.50" y2="279.10" stroke="#1e1e1e" stroke-width="1.0"/>
<rect x="494.90" y="217.78" width="7.30" height="59.02" fill="#a8002c"/>
<line x1="498.50" y1="212.30" x2="498.50" y2="217.78" stroke="#7e1a34" stroke-width="1.0"/>
<line x1="496.60" y1="212.30" x2="500.40" y2="212.30" stroke="#7e1a34" stroke-width="1.2"/>
<rect x="503.30" y="233.77" width="6.80" height="43.03" fill="#6f7898"/>
<line x1="506.50" y1="222.15" x2="506.50" y2="233.77" stroke="#575e72" stroke-width="1.0"/>
<line x1="504.60" y1="222.15" x2="508.40" y2="222.15" stroke="#575e72" stroke-width="1.2"/>
<line x1="502.50" y1="276.50" x2="502.50" y2="279.10" stroke="#1e1e1e" stroke-width="1.0"/>
<text x="443.25" y="287.40" font-size="9.07" text-anchor="end" transform="rotate(-45 443.25 287.40) translate(443.25 287.40) scale(0.9259 1) translate(-443.25 -287.40)">HSC</text>
<text x="464.75" y="287.40" font-size="9.07" text-anchor="end" transform="rotate(-45 464.75 287.40) translate(464.75 287.40) scale(0.9259 1) translate(-464.75 -287.40)">MPP</text>
<text x="486.25" y="287.40" font-size="9.07" text-anchor="end" transform="rotate(-45 486.25 287.40) translate(486.25 287.40) scale(0.9259 1) translate(-486.25 -287.40)">HPC-1</text>
<text x="507.75" y="287.40" font-size="9.07" text-anchor="end" transform="rotate(-45 507.75 287.40) translate(507.75 287.40) scale(0.9259 1) translate(-507.75 -287.40)">HPC-2</text>
<text x="33.20" y="339.00" font-size="11.33" font-weight="bold" transform="translate(33.20 339.00) scale(0.9091 1) translate(-33.20 -339.00)" style="stroke-width:0.4px">F</text>
<text x="41.20" y="393.50" font-size="9.61" text-anchor="middle" transform="rotate(-90 41.20 393.50) translate(41.20 393.50) scale(0.9259 1) translate(-41.20 -393.50)">CD45.2<tspan font-size="5.5" dy="-3">+</tspan><tspan dy="3"> cells in PB (%)</tspan></text>
<line x1="62.50" y1="349.00" x2="62.50" y2="438.10" stroke="#1e1e1e" stroke-width="1.15"/>
<line x1="59.30" y1="436.50" x2="62.50" y2="436.50" stroke="#1e1e1e" stroke-width="1.0"/>
<text x="56.40" y="440.20" font-size="8.75" text-anchor="end" transform="translate(56.40 440.20) scale(0.9259 1) translate(-56.40 -440.20)">0</text>
<line x1="59.30" y1="420.50" x2="62.50" y2="420.50" stroke="#1e1e1e" stroke-width="1.0"/>
<text x="56.40" y="423.32" font-size="8.75" text-anchor="end" transform="translate(56.40 423.32) scale(0.9259 1) translate(-56.40 -423.32)">10</text>
<line x1="59.30" y1="403.50" x2="62.50" y2="403.50" stroke="#1e1e1e" stroke-width="1.0"/>
<text x="56.40" y="406.44" font-size="8.75" text-anchor="end" transform="translate(56.40 406.44) scale(0.9259 1) translate(-56.40 -406.44)">20</text>
<line x1="59.30" y1="386.50" x2="62.50" y2="386.50" stroke="#1e1e1e" stroke-width="1.0"/>
<text x="56.40" y="389.56" font-size="8.75" text-anchor="end" transform="translate(56.40 389.56) scale(0.9259 1) translate(-56.40 -389.56)">30</text>
<line x1="59.30" y1="369.50" x2="62.50" y2="369.50" stroke="#1e1e1e" stroke-width="1.0"/>
<text x="56.40" y="372.68" font-size="8.75" text-anchor="end" transform="translate(56.40 372.68) scale(0.9259 1) translate(-56.40 -372.68)">40</text>
<line x1="59.30" y1="352.50" x2="62.50" y2="352.50" stroke="#1e1e1e" stroke-width="1.0"/>
<text x="56.40" y="355.80" font-size="8.75" text-anchor="end" transform="translate(56.40 355.80) scale(0.9259 1) translate(-56.40 -355.80)">50</text>
<line x1="61.90" y1="437.50" x2="141.00" y2="437.50" stroke="#1e1e1e" stroke-width="1.15"/>
<rect x="64.00" y="384.67" width="8.20" height="52.33" fill="#a8002c"/>
<line x1="68.50" y1="373.36" x2="68.50" y2="384.67" stroke="#7e1a34" stroke-width="1.0"/>
<line x1="66.60" y1="373.36" x2="70.40" y2="373.36" stroke="#7e1a34" stroke-width="1.2"/>
<rect x="73.80" y="371.17" width="8.00" height="65.83" fill="#6f7898"/>
<line x1="77.50" y1="364.92" x2="77.50" y2="371.17" stroke="#575e72" stroke-width="1.0"/>
<line x1="75.60" y1="364.92" x2="79.40" y2="364.92" stroke="#575e72" stroke-width="1.2"/>
<line x1="72.50" y1="437.50" x2="72.50" y2="440.10" stroke="#1e1e1e" stroke-width="1.0"/>
<rect x="92.30" y="398.18" width="8.40" height="38.82" fill="#a8002c"/>
<line x1="96.50" y1="391.92" x2="96.50" y2="398.18" stroke="#7e1a34" stroke-width="1.0"/>
<line x1="94.60" y1="391.92" x2="98.40" y2="391.92" stroke="#7e1a34" stroke-width="1.2"/>
<rect x="102.50" y="403.24" width="8.20" height="33.76" fill="#6f7898"/>
<line x1="106.50" y1="396.99" x2="106.50" y2="403.24" stroke="#575e72" stroke-width="1.0"/>
<line x1="104.60" y1="396.99" x2="108.40" y2="396.99" stroke="#575e72" stroke-width="1.2"/>
<line x1="101.50" y1="437.50" x2="101.50" y2="440.10" stroke="#1e1e1e" stroke-width="1.0"/>
<rect x="120.60" y="403.24" width="8.00" height="33.76" fill="#a8002c"/>
<line x1="124.50" y1="389.39" x2="124.50" y2="403.24" stroke="#7e1a34" stroke-width="1.0"/>
<line x1="122.60" y1="389.39" x2="126.40" y2="389.39" stroke="#7e1a34" stroke-width="1.2"/>
<rect x="130.50" y="408.30" width="8.00" height="28.70" fill="#6f7898"/>
<line x1="134.50" y1="397.83" x2="134.50" y2="408.30" stroke="#575e72" stroke-width="1.0"/>
<line x1="132.60" y1="397.83" x2="136.40" y2="397.83" stroke="#575e72" stroke-width="1.2"/>
<line x1="129.50" y1="437.50" x2="129.50" y2="440.10" stroke="#1e1e1e" stroke-width="1.0"/>
<text x="73.00" y="451.00" font-size="8.32" text-anchor="middle" transform="translate(73.00 451.00) scale(0.9259 1) translate(-73.00 -451.00)">4</text>
<text x="101.60" y="451.00" font-size="8.32" text-anchor="middle" transform="translate(101.60 451.00) scale(0.9259 1) translate(-101.60 -451.00)">12</text>
<text x="129.55" y="451.00" font-size="8.32" text-anchor="middle" transform="translate(129.55 451.00) scale(0.9259 1) translate(-129.55 -451.00)">16</text>
<text x="102.40" y="464.50" font-size="9.50" text-anchor="middle" textLength="48.60" lengthAdjust="spacingAndGlyphs" transform="translate(102.40 464.50) scale(0.9259 1) translate(-102.40 -464.50)">Weeks after</text>
<text x="102.40" y="474.80" font-size="9.50" text-anchor="middle" textLength="61.56" lengthAdjust="spacingAndGlyphs" transform="translate(102.40 474.80) scale(0.9259 1) translate(-102.40 -474.80)">transplantation</text>
<text x="161.00" y="339.80" font-size="11.33" font-weight="bold" transform="translate(161.00 339.80) scale(0.9091 1) translate(-161.00 -339.80)" style="stroke-width:0.4px">G</text>
<text x="168.50" y="393.50" font-size="9.61" text-anchor="middle" transform="rotate(-90 168.50 393.50) translate(168.50 393.50) scale(0.9259 1) translate(-168.50 -393.50)">CD45.2<tspan font-size="5.5" dy="-3">+</tspan><tspan dy="3"> cells in BM (%)</tspan></text>
<line x1="193.50" y1="349.50" x2="193.50" y2="438.10" stroke="#1e1e1e" stroke-width="1.15"/>
<line x1="190.30" y1="436.50" x2="193.50" y2="436.50" stroke="#1e1e1e" stroke-width="1.0"/>
<text x="187.20" y="440.20" font-size="8.75" text-anchor="end" transform="translate(187.20 440.20) scale(0.9259 1) translate(-187.20 -440.20)">0</text>
<line x1="190.30" y1="420.50" x2="193.50" y2="420.50" stroke="#1e1e1e" stroke-width="1.0"/>
<text x="187.20" y="423.30" font-size="8.75" text-anchor="end" transform="translate(187.20 423.30) scale(0.9259 1) translate(-187.20 -423.30)">20</text>
<line x1="190.30" y1="403.50" x2="193.50" y2="403.50" stroke="#1e1e1e" stroke-width="1.0"/>
<text x="187.20" y="406.40" font-size="8.75" text-anchor="end" transform="translate(187.20 406.40) scale(0.9259 1) translate(-187.20 -406.40)">40</text>
<line x1="190.30" y1="386.50" x2="193.50" y2="386.50" stroke="#1e1e1e" stroke-width="1.0"/>
<text x="187.20" y="389.50" font-size="8.75" text-anchor="end" transform="translate(187.20 389.50) scale(0.9259 1) translate(-187.20 -389.50)">60</text>
<line x1="190.30" y1="369.50" x2="193.50" y2="369.50" stroke="#1e1e1e" stroke-width="1.0"/>
<text x="187.20" y="372.60" font-size="8.75" text-anchor="end" transform="translate(187.20 372.60) scale(0.9259 1) translate(-187.20 -372.60)">80</text>
<line x1="190.30" y1="352.50" x2="193.50" y2="352.50" stroke="#1e1e1e" stroke-width="1.0"/>
<text x="187.20" y="355.70" font-size="8.75" text-anchor="end" transform="translate(187.20 355.70) scale(0.9259 1) translate(-187.20 -355.70)">100</text>
<line x1="192.90" y1="437.50" x2="277.50" y2="437.50" stroke="#1e1e1e" stroke-width="1.15"/>
<rect x="194.40" y="386.55" width="7.30" height="50.45" fill="#a8002c"/>
<line x1="198.50" y1="382.24" x2="198.50" y2="386.55" stroke="#7e1a34" stroke-width="1.0"/>
<line x1="196.60" y1="382.24" x2="200.40" y2="382.24" stroke="#7e1a34" stroke-width="1.2"/>
<rect x="203.20" y="399.14" width="6.90" height="37.86" fill="#6f7898"/>
<line x1="206.50" y1="396.01" x2="206.50" y2="399.14" stroke="#575e72" stroke-width="1.0"/>
<line x1="204.60" y1="396.01" x2="208.40" y2="396.01" stroke="#575e72" stroke-width="1.2"/>
<line x1="202.50" y1="437.50" x2="202.50" y2="440.10" stroke="#1e1e1e" stroke-width="1.0"/>
<rect x="215.90" y="374.05" width="7.30" height="62.95" fill="#a8002c"/>
<line x1="219.50" y1="370.07" x2="219.50" y2="374.05" stroke="#7e1a34" stroke-width="1.0"/>
<line x1="217.60" y1="370.07" x2="221.40" y2="370.07" stroke="#7e1a34" stroke-width="1.2"/>
<rect x="224.70" y="377.77" width="6.90" height="59.23" fill="#6f7898"/>
<line x1="228.50" y1="371.34" x2="228.50" y2="377.77" stroke="#575e72" stroke-width="1.0"/>
<line x1="226.60" y1="371.34" x2="230.40" y2="371.34" stroke="#575e72" stroke-width="1.2"/>
<line x1="223.50" y1="437.50" x2="223.50" y2="440.10" stroke="#1e1e1e" stroke-width="1.0"/>
<rect x="237.40" y="387.40" width="7.30" height="49.60" fill="#a8002c"/>
<line x1="241.50" y1="382.41" x2="241.50" y2="387.40" stroke="#7e1a34" stroke-width="1.0"/>
<line x1="239.60" y1="382.41" x2="243.40" y2="382.41" stroke="#7e1a34" stroke-width="1.2"/>
<rect x="246.20" y="398.64" width="6.90" height="38.36" fill="#6f7898"/>
<line x1="249.50" y1="395.17" x2="249.50" y2="398.64" stroke="#575e72" stroke-width="1.0"/>
<line x1="247.60" y1="395.17" x2="251.40" y2="395.17" stroke="#575e72" stroke-width="1.2"/>
<line x1="245.50" y1="437.50" x2="245.50" y2="440.10" stroke="#1e1e1e" stroke-width="1.0"/>
<rect x="258.90" y="402.61" width="7.30" height="34.39" fill="#a8002c"/>
<line x1="262.50" y1="396.01" x2="262.50" y2="402.61" stroke="#7e1a34" stroke-width="1.0"/>
<line x1="260.60" y1="396.01" x2="264.40" y2="396.01" stroke="#7e1a34" stroke-width="1.2"/>
<rect x="267.70" y="420.61" width="6.90" height="16.39" fill="#6f7898"/>
<line x1="271.50" y1="412.15" x2="271.50" y2="420.61" stroke="#575e72" stroke-width="1.0"/>
<line x1="269.60" y1="412.15" x2="273.40" y2="412.15" stroke="#575e72" stroke-width="1.2"/>
<line x1="266.50" y1="437.50" x2="266.50" y2="440.10" stroke="#1e1e1e" stroke-width="1.0"/>
<text x="207.45" y="447.60" font-size="9.07" text-anchor="end" transform="rotate(-45 207.45 447.60) translate(207.45 447.60) scale(0.9259 1) translate(-207.45 -447.60)">Total</text>
<text x="228.95" y="447.60" font-size="9.07" text-anchor="end" transform="rotate(-45 228.95 447.60) translate(228.95 447.60) scale(0.9259 1) translate(-228.95 -447.60)">Myeloid</text>
<text x="250.45" y="447.60" font-size="9.07" text-anchor="end" transform="rotate(-45 250.45 447.60) translate(250.45 447.60) scale(0.9259 1) translate(-250.45 -447.60)">B lymphoid</text>
<text x="271.95" y="447.60" font-size="9.07" text-anchor="end" transform="rotate(-45 271.95 447.60) translate(271.95 447.60) scale(0.9259 1) translate(-271.95 -447.60)">Erythroid</text>
<text x="297.00" y="339.50" font-size="11.33" font-weight="bold" transform="translate(297.00 339.50) scale(0.9091 1) translate(-297.00 -339.50)" style="stroke-width:0.4px">H</text>
<text x="304.30" y="393.50" font-size="9.61" text-anchor="middle" transform="rotate(-90 304.30 393.50) translate(304.30 393.50) scale(0.9259 1) translate(-304.30 -393.50)">CD45.2<tspan font-size="5.5" dy="-3">+</tspan><tspan dy="3"> cells in BM (%)</tspan></text>
<line x1="330.50" y1="349.50" x2="330.50" y2="438.10" stroke="#1e1e1e" stroke-width="1.15"/>
<line x1="327.30" y1="436.50" x2="330.50" y2="436.50" stroke="#1e1e1e" stroke-width="1.0"/>
<text x="324.00" y="440.20" font-size="8.75" text-anchor="end" transform="translate(324.00 440.20) scale(0.9259 1) translate(-324.00 -440.20)">0</text>
<line x1="327.30" y1="420.50" x2="330.50" y2="420.50" stroke="#1e1e1e" stroke-width="1.0"/>
<text x="324.00" y="423.30" font-size="8.75" text-anchor="end" transform="translate(324.00 423.30) scale(0.9259 1) translate(-324.00 -423.30)">20</text>
<line x1="327.30" y1="403.50" x2="330.50" y2="403.50" stroke="#1e1e1e" stroke-width="1.0"/>
<text x="324.00" y="406.40" font-size="8.75" text-anchor="end" transform="translate(324.00 406.40) scale(0.9259 1) translate(-324.00 -406.40)">40</text>
<line x1="327.30" y1="386.50" x2="330.50" y2="386.50" stroke="#1e1e1e" stroke-width="1.0"/>
<text x="324.00" y="389.50" font-size="8.75" text-anchor="end" transform="translate(324.00 389.50) scale(0.9259 1) translate(-324.00 -389.50)">60</text>
<line x1="327.30" y1="369.50" x2="330.50" y2="369.50" stroke="#1e1e1e" stroke-width="1.0"/>
<text x="324.00" y="372.60" font-size="8.75" text-anchor="end" transform="translate(324.00 372.60) scale(0.9259 1) translate(-324.00 -372.60)">80</text>
<line x1="327.30" y1="352.50" x2="330.50" y2="352.50" stroke="#1e1e1e" stroke-width="1.0"/>
<text x="324.00" y="355.70" font-size="8.75" text-anchor="end" transform="translate(324.00 355.70) scale(0.9259 1) translate(-324.00 -355.70)">100</text>
<line x1="329.90" y1="437.50" x2="412.50" y2="437.50" stroke="#1e1e1e" stroke-width="1.15"/>
<rect x="331.40" y="363.06" width="7.10" height="73.94" fill="#a8002c"/>
<line x1="334.50" y1="359.25" x2="334.50" y2="363.06" stroke="#7e1a34" stroke-width="1.0"/>
<line x1="332.60" y1="359.25" x2="336.40" y2="359.25" stroke="#7e1a34" stroke-width="1.2"/>
<rect x="339.80" y="366.44" width="6.80" height="70.56" fill="#6f7898"/>
<line x1="343.50" y1="358.07" x2="343.50" y2="366.44" stroke="#575e72" stroke-width="1.0"/>
<line x1="341.60" y1="358.07" x2="345.40" y2="358.07" stroke="#575e72" stroke-width="1.2"/>
<line x1="339.50" y1="437.50" x2="339.50" y2="440.10" stroke="#1e1e1e" stroke-width="1.0"/>
<rect x="352.85" y="377.93" width="7.10" height="59.07" fill="#a8002c"/>
<line x1="356.50" y1="373.79" x2="356.50" y2="377.93" stroke="#7e1a34" stroke-width="1.0"/>
<line x1="354.60" y1="373.79" x2="358.40" y2="373.79" stroke="#7e1a34" stroke-width="1.2"/>
<rect x="361.25" y="373.79" width="6.80" height="63.21" fill="#6f7898"/>
<line x1="364.50" y1="361.37" x2="364.50" y2="373.79" stroke="#575e72" stroke-width="1.0"/>
<line x1="362.60" y1="361.37" x2="366.40" y2="361.37" stroke="#575e72" stroke-width="1.2"/>
<line x1="360.50" y1="437.50" x2="360.50" y2="440.10" stroke="#1e1e1e" stroke-width="1.0"/>
<rect x="374.30" y="380.98" width="7.10" height="56.02" fill="#a8002c"/>
<line x1="377.50" y1="376.24" x2="377.50" y2="380.98" stroke="#7e1a34" stroke-width="1.0"/>
<line x1="375.60" y1="376.24" x2="379.40" y2="376.24" stroke="#7e1a34" stroke-width="1.2"/>
<rect x="382.70" y="378.95" width="6.80" height="58.05" fill="#6f7898"/>
<line x1="386.50" y1="373.79" x2="386.50" y2="378.95" stroke="#575e72" stroke-width="1.0"/>
<line x1="384.60" y1="373.79" x2="388.40" y2="373.79" stroke="#575e72" stroke-width="1.2"/>
<line x1="382.50" y1="437.50" x2="382.50" y2="440.10" stroke="#1e1e1e" stroke-width="1.0"/>
<rect x="395.75" y="368.39" width="7.10" height="68.61" fill="#a8002c"/>
<line x1="399.50" y1="363.90" x2="399.50" y2="368.39" stroke="#7e1a34" stroke-width="1.0"/>
<line x1="397.60" y1="363.90" x2="401.40" y2="363.90" stroke="#7e1a34" stroke-width="1.2"/>
<rect x="404.15" y="369.57" width="6.80" height="67.43" fill="#6f7898"/>
<line x1="407.50" y1="365.08" x2="407.50" y2="369.57" stroke="#575e72" stroke-width="1.0"/>
<line x1="405.60" y1="365.08" x2="409.40" y2="365.08" stroke="#575e72" stroke-width="1.2"/>
<line x1="403.50" y1="437.50" x2="403.50" y2="440.10" stroke="#1e1e1e" stroke-width="1.0"/>
<text x="344.15" y="447.60" font-size="9.07" text-anchor="end" transform="rotate(-45 344.15 447.60) translate(344.15 447.60) scale(0.9259 1) translate(-344.15 -447.60)">HSC</text>
<text x="365.60" y="447.60" font-size="9.07" text-anchor="end" transform="rotate(-45 365.60 447.60) translate(365.60 447.60) scale(0.9259 1) translate(-365.60 -447.60)">MPP</text>
<text x="387.05" y="447.60" font-size="9.07" text-anchor="end" transform="rotate(-45 387.05 447.60) translate(387.05 447.60) scale(0.9259 1) translate(-387.05 -447.60)">HPC-1</text>
<text x="408.50" y="447.60" font-size="9.07" text-anchor="end" transform="rotate(-45 408.50 447.60) translate(408.50 447.60) scale(0.9259 1) translate(-408.50 -447.60)">HPC-2</text>
<text x="429.50" y="339.20" font-size="11.33" font-weight="bold" transform="translate(429.50 339.20) scale(0.9091 1) translate(-429.50 -339.20)" style="stroke-width:0.4px">I</text>
<rect x="429.3" y="382.0" width="65.3" height="27.4" fill="#ababab" stroke="#303030" stroke-width="0.9"/>
<rect x="431.2" y="401.3" width="9.0" height="4.2" rx="2.1" fill="#101010"/>
<rect x="444.1" y="389.7" width="9.6" height="4.2" rx="2.1" fill="#101010"/>
<rect x="457.1" y="401.3" width="9.1" height="4.2" rx="2.1" fill="#101010"/>
<rect x="470.4" y="393.2" width="9.2" height="4.2" rx="2.1" fill="#101010"/>
<rect x="483.5" y="390.1" width="9.2" height="4.2" rx="2.1" fill="#101010"/>
<line x1="494.60" y1="390.40" x2="498.80" y2="388.00" stroke="#1e1e1e" stroke-width="0.8"/>
<line x1="494.60" y1="394.60" x2="499.00" y2="394.60" stroke="#1e1e1e" stroke-width="0.8"/>
<line x1="494.60" y1="403.40" x2="499.00" y2="403.40" stroke="#1e1e1e" stroke-width="0.8"/>
<text x="499.20" y="390.40" font-size="7.99" transform="translate(499.20 390.40) scale(0.9259 1) translate(-499.20 -390.40)">&#916;</text>
<text x="500.60" y="397.20" font-size="6.91" transform="translate(500.60 397.20) scale(0.9259 1) translate(-500.60 -397.20)">fl</text>
<text x="499.50" y="406.20" font-size="7.99" transform="translate(499.50 406.20) scale(0.9259 1) translate(-499.50 -406.20)">WT</text>
<line x1="457.50" y1="412.40" x2="492.70" y2="412.40" stroke="#1e1e1e" stroke-width="0.9"/>
<text x="476.70" y="417.60" font-size="5.40" text-anchor="middle" fill="#505050" transform="translate(476.70 417.60) scale(0.9259 1) translate(-476.70 -417.60)" stroke="none">PCR controls</text>
<text x="436.90" y="381.00" font-size="5.29" fill="#707070" transform="rotate(-35 436.90 381.00) translate(436.90 381.00) scale(0.9259 1) translate(-436.90 -381.00)" stroke="none">Control</text>
<text x="450.00" y="381.00" font-size="5.29" fill="#707070" transform="rotate(-35 450.00 381.00) translate(450.00 381.00) scale(0.9259 1) translate(-450.00 -381.00)" stroke="none">Hif-1&#945;<tspan font-size="3.4" dy="-1.6">&#916;/&#916;</tspan></text>
<text x="463.10" y="381.00" font-size="5.29" fill="#707070" transform="rotate(-35 463.10 381.00) translate(463.10 381.00) scale(0.9259 1) translate(-463.10 -381.00)" stroke="none">Hif-1&#945;<tspan font-size="3.4" dy="-1.6">+/+</tspan></text>
<text x="476.20" y="381.00" font-size="5.29" fill="#707070" transform="rotate(-35 476.20 381.00) translate(476.20 381.00) scale(0.9259 1) translate(-476.20 -381.00)" stroke="none">Hif-1&#945;<tspan font-size="3.4" dy="-1.6">fl/fl</tspan></text>
<text x="489.30" y="381.00" font-size="5.29" fill="#707070" transform="rotate(-35 489.30 381.00) translate(489.30 381.00) scale(0.9259 1) translate(-489.30 -381.00)" stroke="none">Hif-1&#945;<tspan font-size="3.4" dy="-1.6">&#916;/&#916;</tspan></text>
<text x="30.00" y="505.20" font-size="11.33" font-weight="bold" transform="translate(30.00 505.20) scale(0.9091 1) translate(-30.00 -505.20)" style="stroke-width:0.4px">J</text>
<text x="39.30" y="558.00" font-size="9.50" text-anchor="middle" transform="rotate(-90 39.30 558.00) translate(39.30 558.00) scale(0.9259 1) translate(-39.30 -558.00)">Recipients with</text>
<text x="49.20" y="558.50" font-size="9.67" text-anchor="middle" transform="rotate(-90 49.20 558.50) translate(49.20 558.50) scale(0.9259 1) translate(-49.20 -558.50)">long-term multilineage</text>
<text x="60.20" y="559.00" font-size="9.72" text-anchor="middle" transform="rotate(-90 60.20 559.00) translate(60.20 559.00) scale(0.9259 1) translate(-60.20 -559.00)">reconstitution (%)</text>
<line x1="87.50" y1="515.40" x2="87.50" y2="602.10" stroke="#1e1e1e" stroke-width="1.15"/>
<line x1="84.30" y1="601.50" x2="87.50" y2="601.50" stroke="#1e1e1e" stroke-width="1.0"/>
<text x="80.90" y="604.90" font-size="8.75" text-anchor="end" transform="translate(80.90 604.90) scale(0.9259 1) translate(-80.90 -604.90)">0</text>
<line x1="84.30" y1="585.50" x2="87.50" y2="585.50" stroke="#1e1e1e" stroke-width="1.0"/>
<text x="80.90" y="588.26" font-size="8.75" text-anchor="end" transform="translate(80.90 588.26) scale(0.9259 1) translate(-80.90 -588.26)">20</text>
<line x1="84.30" y1="568.50" x2="87.50" y2="568.50" stroke="#1e1e1e" stroke-width="1.0"/>
<text x="80.90" y="571.62" font-size="8.75" text-anchor="end" transform="translate(80.90 571.62) scale(0.9259 1) translate(-80.90 -571.62)">40</text>
<line x1="84.30" y1="551.50" x2="87.50" y2="551.50" stroke="#1e1e1e" stroke-width="1.0"/>
<text x="80.90" y="554.98" font-size="8.75" text-anchor="end" transform="translate(80.90 554.98) scale(0.9259 1) translate(-80.90 -554.98)">60</text>
<line x1="84.30" y1="535.50" x2="87.50" y2="535.50" stroke="#1e1e1e" stroke-width="1.0"/>
<text x="80.90" y="538.34" font-size="8.75" text-anchor="end" transform="translate(80.90 538.34) scale(0.9259 1) translate(-80.90 -538.34)">80</text>
<line x1="84.30" y1="518.50" x2="87.50" y2="518.50" stroke="#1e1e1e" stroke-width="1.0"/>
<text x="80.90" y="521.70" font-size="8.75" text-anchor="end" transform="translate(80.90 521.70) scale(0.9259 1) translate(-80.90 -521.70)">100</text>
<line x1="86.90" y1="601.50" x2="126.20" y2="601.50" stroke="#1e1e1e" stroke-width="1.15"/>
<rect x="93.90" y="542.71" width="10.80" height="58.99" fill="#a8002c"/>
<rect x="108.50" y="551.11" width="11.30" height="50.59" fill="#6f7898"/>
<text x="99.10" y="538.50" font-size="8.21" text-anchor="middle" transform="translate(99.10 538.50) scale(0.9259 1) translate(-99.10 -538.50)">7/10</text>
<text x="113.90" y="546.70" font-size="8.21" text-anchor="middle" transform="translate(113.90 546.70) scale(0.9259 1) translate(-113.90 -546.70)">3/5</text>
<text x="146.80" y="505.20" font-size="11.33" font-weight="bold" transform="translate(146.80 505.20) scale(0.9091 1) translate(-146.80 -505.20)" style="stroke-width:0.4px">K</text>
<text x="153.50" y="559.00" font-size="9.61" text-anchor="middle" transform="rotate(-90 153.50 559.00) translate(153.50 559.00) scale(0.9259 1) translate(-153.50 -559.00)">CD45.2<tspan font-size="5.5" dy="-3">+</tspan><tspan dy="3"> cells in PB (%)</tspan></text>
<line x1="179.50" y1="512.50" x2="179.50" y2="602.10" stroke="#1e1e1e" stroke-width="1.15"/>
<line x1="176.30" y1="601.50" x2="179.50" y2="601.50" stroke="#1e1e1e" stroke-width="1.0"/>
<text x="173.00" y="604.70" font-size="8.75" text-anchor="end" transform="translate(173.00 604.70) scale(0.9259 1) translate(-173.00 -604.70)">0</text>
<line x1="176.30" y1="580.50" x2="179.50" y2="580.50" stroke="#1e1e1e" stroke-width="1.0"/>
<text x="173.00" y="583.33" font-size="8.75" text-anchor="end" transform="translate(173.00 583.33) scale(0.9259 1) translate(-173.00 -583.33)">10</text>
<line x1="176.30" y1="558.50" x2="179.50" y2="558.50" stroke="#1e1e1e" stroke-width="1.0"/>
<text x="173.00" y="561.95" font-size="8.75" text-anchor="end" transform="translate(173.00 561.95) scale(0.9259 1) translate(-173.00 -561.95)">20</text>
<line x1="176.30" y1="537.50" x2="179.50" y2="537.50" stroke="#1e1e1e" stroke-width="1.0"/>
<text x="173.00" y="540.58" font-size="8.75" text-anchor="end" transform="translate(173.00 540.58) scale(0.9259 1) translate(-173.00 -540.58)">30</text>
<line x1="176.30" y1="516.50" x2="179.50" y2="516.50" stroke="#1e1e1e" stroke-width="1.0"/>
<text x="173.00" y="519.20" font-size="8.75" text-anchor="end" transform="translate(173.00 519.20) scale(0.9259 1) translate(-173.00 -519.20)">40</text>
<line x1="178.90" y1="601.50" x2="295.40" y2="601.50" stroke="#1e1e1e" stroke-width="1.15"/>
<rect x="181.80" y="583.97" width="8.20" height="17.53" fill="#a8002c"/>
<line x1="185.50" y1="574.21" x2="185.50" y2="583.97" stroke="#7e1a34" stroke-width="1.0"/>
<line x1="183.60" y1="574.21" x2="187.40" y2="574.21" stroke="#7e1a34" stroke-width="1.2"/>
<rect x="192.60" y="579.48" width="8.60" height="22.02" fill="#6f7898"/>
<line x1="196.50" y1="559.68" x2="196.50" y2="579.48" stroke="#575e72" stroke-width="1.0"/>
<line x1="194.60" y1="559.68" x2="198.40" y2="559.68" stroke="#575e72" stroke-width="1.2"/>
<line x1="191.50" y1="601.50" x2="191.50" y2="604.10" stroke="#1e1e1e" stroke-width="1.0"/>
<rect x="212.50" y="550.63" width="8.20" height="50.87" fill="#a8002c"/>
<line x1="216.50" y1="526.33" x2="216.50" y2="550.63" stroke="#7e1a34" stroke-width="1.0"/>
<line x1="214.60" y1="526.33" x2="218.40" y2="526.33" stroke="#7e1a34" stroke-width="1.2"/>
<rect x="223.60" y="559.82" width="8.60" height="41.68" fill="#6f7898"/>
<line x1="227.50" y1="522.91" x2="227.50" y2="559.82" stroke="#575e72" stroke-width="1.0"/>
<line x1="225.60" y1="522.91" x2="229.40" y2="522.91" stroke="#575e72" stroke-width="1.2"/>
<line x1="222.50" y1="601.50" x2="222.50" y2="604.10" stroke="#1e1e1e" stroke-width="1.0"/>
<rect x="243.90" y="569.44" width="8.20" height="32.06" fill="#a8002c"/>
<line x1="248.50" y1="553.69" x2="248.50" y2="569.44" stroke="#7e1a34" stroke-width="1.0"/>
<line x1="246.60" y1="553.69" x2="250.40" y2="553.69" stroke="#7e1a34" stroke-width="1.2"/>
<rect x="255.00" y="573.71" width="8.60" height="27.79" fill="#6f7898"/>
<line x1="259.50" y1="548.99" x2="259.50" y2="573.71" stroke="#575e72" stroke-width="1.0"/>
<line x1="257.60" y1="548.99" x2="261.40" y2="548.99" stroke="#575e72" stroke-width="1.2"/>
<line x1="253.50" y1="601.50" x2="253.50" y2="604.10" stroke="#1e1e1e" stroke-width="1.0"/>
<rect x="274.10" y="592.95" width="8.20" height="8.55" fill="#a8002c"/>
<line x1="278.50" y1="590.24" x2="278.50" y2="592.95" stroke="#7e1a34" stroke-width="1.0"/>
<line x1="276.60" y1="590.24" x2="280.40" y2="590.24" stroke="#7e1a34" stroke-width="1.2"/>
<rect x="285.20" y="591.24" width="8.60" height="10.26" fill="#6f7898"/>
<line x1="289.50" y1="583.19" x2="289.50" y2="591.24" stroke="#575e72" stroke-width="1.0"/>
<line x1="287.60" y1="583.19" x2="291.40" y2="583.19" stroke="#575e72" stroke-width="1.2"/>
<line x1="283.50" y1="601.50" x2="283.50" y2="604.10" stroke="#1e1e1e" stroke-width="1.0"/>
<text x="197.20" y="612.50" font-size="9.07" text-anchor="end" transform="rotate(-45 197.20 612.50) translate(197.20 612.50) scale(0.9259 1) translate(-197.20 -612.50)">Total</text>
<text x="228.05" y="612.50" font-size="9.07" text-anchor="end" transform="rotate(-45 228.05 612.50) translate(228.05 612.50) scale(0.9259 1) translate(-228.05 -612.50)">Myeloid</text>
<text x="259.45" y="612.50" font-size="9.07" text-anchor="end" transform="rotate(-45 259.45 612.50) translate(259.45 612.50) scale(0.9259 1) translate(-259.45 -612.50)">B lymphoid</text>
<text x="289.65" y="612.50" font-size="9.07" text-anchor="end" transform="rotate(-45 289.65 612.50) translate(289.65 612.50) scale(0.9259 1) translate(-289.65 -612.50)">T lymphoid</text>
<text x="313.50" y="505.00" font-size="11.33" font-weight="bold" transform="translate(313.50 505.00) scale(0.9091 1) translate(-313.50 -505.00)" style="stroke-width:0.4px">L</text>
<rect x="313.0" y="539.3" width="72.0" height="28.2" fill="#ababab" stroke="#303030" stroke-width="0.9"/>
<rect x="315.2" y="558.0" width="10.8" height="2.8" rx="1.4" fill="#101010"/>
<rect x="329.8" y="547.4" width="9.8" height="2.8" rx="1.4" fill="#101010"/>
<rect x="343.9" y="558.4" width="10.0" height="2.8" rx="1.4" fill="#101010"/>
<rect x="358.0" y="551.1" width="10.4" height="2.9" rx="1.45" fill="#101010"/>
<rect x="371.4" y="547.2" width="9.6" height="2.9" rx="1.45" fill="#101010"/>
<line x1="385.00" y1="548.00" x2="389.00" y2="545.00" stroke="#1e1e1e" stroke-width="0.8"/>
<line x1="385.00" y1="552.60" x2="389.00" y2="552.60" stroke="#1e1e1e" stroke-width="0.8"/>
<line x1="385.00" y1="560.20" x2="389.00" y2="560.20" stroke="#1e1e1e" stroke-width="0.8"/>
<text x="389.60" y="547.60" font-size="7.99" transform="translate(389.60 547.60) scale(0.9259 1) translate(-389.60 -547.60)">&#916;</text>
<text x="391.00" y="555.60" font-size="6.91" transform="translate(391.00 555.60) scale(0.9259 1) translate(-391.00 -555.60)">fl</text>
<text x="389.60" y="563.40" font-size="7.99" transform="translate(389.60 563.40) scale(0.9259 1) translate(-389.60 -563.40)">WT</text>
<line x1="343.80" y1="569.30" x2="381.20" y2="569.30" stroke="#1e1e1e" stroke-width="0.9"/>
<text x="364.00" y="575.50" font-size="5.40" text-anchor="middle" fill="#505050" transform="translate(364.00 575.50) scale(0.9259 1) translate(-364.00 -575.50)" stroke="none">PCR controls</text>
<text x="320.30" y="537.40" font-size="5.29" fill="#707070" transform="rotate(-35 320.30 537.40) translate(320.30 537.40) scale(0.9259 1) translate(-320.30 -537.40)" stroke="none">Control</text>
<text x="334.45" y="537.40" font-size="5.29" fill="#707070" transform="rotate(-35 334.45 537.40) translate(334.45 537.40) scale(0.9259 1) translate(-334.45 -537.40)" stroke="none">Hif-1&#945;<tspan font-size="3.4" dy="-1.6">&#916;/&#916;</tspan></text>
<text x="348.60" y="537.40" font-size="5.29" fill="#707070" transform="rotate(-35 348.60 537.40) translate(348.60 537.40) scale(0.9259 1) translate(-348.60 -537.40)" stroke="none">Hif-1&#945;<tspan font-size="3.4" dy="-1.6">+/+</tspan></text>
<text x="362.75" y="537.40" font-size="5.29" fill="#707070" transform="rotate(-35 362.75 537.40) translate(362.75 537.40) scale(0.9259 1) translate(-362.75 -537.40)" stroke="none">Hif-1&#945;<tspan font-size="3.4" dy="-1.6">fl/fl</tspan></text>
<text x="376.90" y="537.40" font-size="5.29" fill="#707070" transform="rotate(-35 376.90 537.40) translate(376.90 537.40) scale(0.9259 1) translate(-376.90 -537.40)" stroke="none">Hif-1&#945;<tspan font-size="3.4" dy="-1.6">&#916;/&#916;</tspan></text>
<rect x="0.5" y="0.5" width="519" height="648" fill="none" stroke="#202020" stroke-width="1.2"/>
</svg></body></html>
